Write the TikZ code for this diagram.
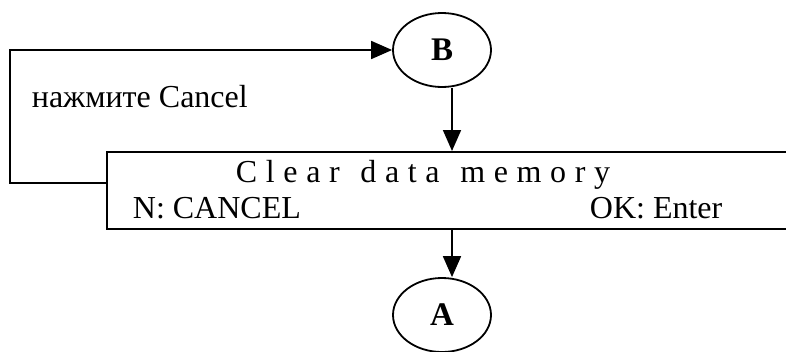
\documentclass[tikz,border=0pt]{standalone}
\usepackage{fontspec}
\setmainfont{Liberation Serif}
\usetikzlibrary{arrows.meta,shapes.geometric}
\begin{document}
\begin{tikzpicture}[x=1pt,y=-1pt,line width=1.8pt,
  conn/.style={-{Triangle[length=21pt,width=18pt]}},
  term/.style={ellipse,draw,minimum width=98pt,minimum height=74pt,inner sep=0pt,
    font=\fontsize{33}{38}\selectfont\bfseries},
  panel/.style={draw,rectangle,minimum width=700pt,minimum height=77pt,inner sep=0pt,anchor=north west},
  lbl/.style={inner sep=0pt,anchor=base west,font=\fontsize{32}{38}\selectfont}]
\useasboundingbox (0,0) rectangle (786,351);
\clip (0,0) rectangle (786,351);
\node[term] (B) at (442,50) {B};
\node[term] (A) at (442,315) {A};
\node[panel] (box) at (106,151) {};
\node[lbl] (t1) at (31,107) {нажмите Cancel};
\node[lbl] (t2) at (235,182) {\addfontfeature{LetterSpace=27}Clear\hspace{4pt} data\hspace{4pt} memory};
\node[lbl] (t3) at (132,218) {N: CANCEL};
\node[lbl] (t4) at (589,218) {OK: Enter};
\coordinate (c1) at (10,183);
\coordinate (c2) at (10,50);
\draw[conn] ([xshift=10pt]B.south) -- ([xshift=10pt]B.south |- box.north);
\draw[conn] ([xshift=10pt]A.north |- box.south) -- ([xshift=10pt]A.north);
\draw[conn] (box.west |- c1) -- (c1) -- (c2) -- (B.west);
\end{tikzpicture}
\end{document}
